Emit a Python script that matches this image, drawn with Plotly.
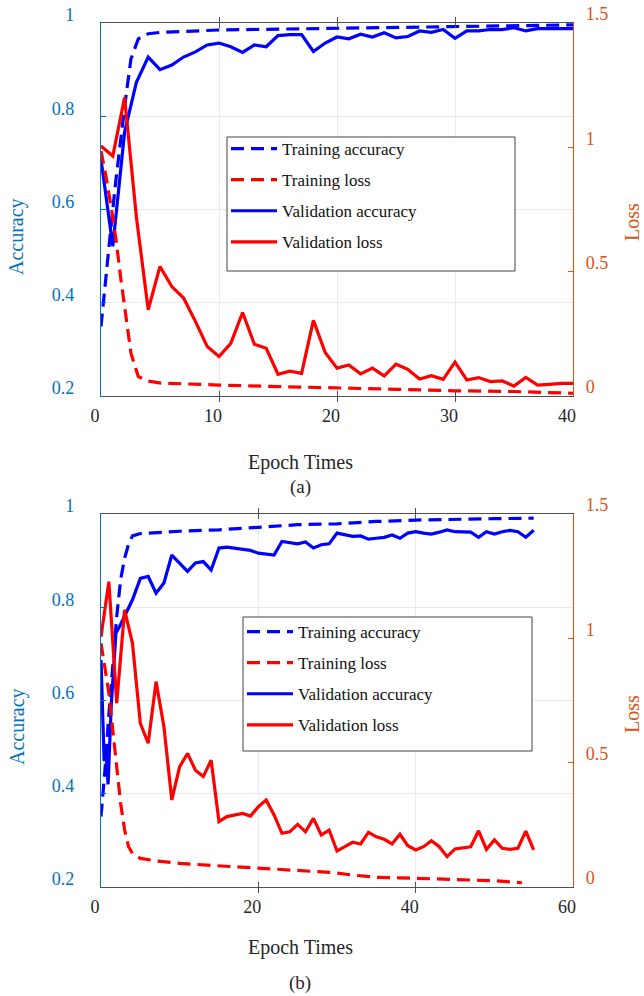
import plotly.graph_objects as go

W, H = 644, 996

# ---------------- data: panel (a) ----------------
ta_a_x = [0, 0.42, 0.85, 1.27, 1.69, 2.12, 2.54, 3.16, 4.0, 5.1, 10, 15, 20, 25, 30, 35, 40]
ta_a_y = [0.349, 0.464, 0.564, 0.665, 0.758, 0.844, 0.923, 0.966, 0.977, 0.980, 0.985, 0.987, 0.989, 0.991, 0.993, 0.995, 0.996]

tl_a_x = [0, 0.42, 0.85, 1.27, 1.69, 2.12, 2.54, 3.16, 4.0, 5.1, 6.9, 10, 15, 20, 25, 30, 35, 40]
tl_a_y = [0.985, 0.884, 0.763, 0.629, 0.468, 0.306, 0.172, 0.078, 0.060, 0.052, 0.048, 0.044, 0.038, 0.034, 0.027, 0.021, 0.018, 0.011]

va_a_x = list(range(0, 41))
va_a_y = [0.708, 0.521, 0.766, 0.873, 0.927, 0.900, 0.910, 0.927, 0.938, 0.953,
          0.957, 0.949, 0.937, 0.953, 0.949, 0.973, 0.975, 0.975, 0.939, 0.957,
          0.970, 0.966, 0.976, 0.970, 0.979, 0.968, 0.971, 0.983, 0.980, 0.986,
          0.967, 0.983, 0.983, 0.986, 0.986, 0.990, 0.983, 0.988, 0.988, 0.988, 0.988]

vl_a_x = list(range(0, 41))
vl_a_y = [1.005, 0.965, 1.20, 0.72, 0.347, 0.521, 0.44, 0.394, 0.30, 0.199,
          0.159, 0.212, 0.336, 0.208, 0.192, 0.0875, 0.10, 0.091, 0.304, 0.175,
          0.112, 0.125, 0.089, 0.112, 0.081, 0.128, 0.107, 0.0685, 0.082, 0.067,
          0.136, 0.0645, 0.074, 0.058, 0.0605, 0.040, 0.075, 0.044, 0.047, 0.051, 0.051]

# ---------------- data: panel (b) ----------------
ta_b_x = [0, 0.5, 1.0, 1.5, 2.0, 2.5, 3.0, 3.5, 4.0, 5, 7, 10, 15, 20, 25, 30, 35, 40, 45, 50, 55]
ta_b_y = [0.351, 0.45, 0.57, 0.68, 0.78, 0.86, 0.905, 0.935, 0.953, 0.958, 0.960, 0.963, 0.966,
          0.971, 0.977, 0.979, 0.984, 0.987, 0.989, 0.990, 0.991]

tl_b_x = [0, 0.5, 1.0, 1.5, 2.0, 2.5, 3.0, 3.5, 4.0, 5, 7, 10, 13.5, 17, 20, 23, 26, 29.5,
          32, 35, 38, 41, 44, 47, 50, 53.5]
tl_b_y = [0.98, 0.886, 0.78, 0.63, 0.47, 0.336, 0.23, 0.162, 0.135, 0.115, 0.105, 0.095, 0.088,
          0.081, 0.075, 0.069, 0.064, 0.058, 0.048, 0.039, 0.037, 0.035, 0.031, 0.028, 0.025, 0.017]

va_b_x = [0, 0.4, 0.6, 0.9, 1.3, 1.9, 2.4, 3] + list(range(4, 56))
va_b_y = [0.687, 0.47, 0.50, 0.42, 0.59, 0.745, 0.76, 0.78,
          0.816, 0.862, 0.866, 0.830, 0.852, 0.912, 0.895, 0.877, 0.895, 0.898,
          0.880, 0.927, 0.929, 0.927, 0.925, 0.922, 0.916, 0.914, 0.912, 0.941,
          0.939, 0.936, 0.940, 0.927, 0.934, 0.936, 0.959, 0.955, 0.952, 0.953,
          0.946, 0.948, 0.950, 0.955, 0.948, 0.959, 0.962, 0.959, 0.957, 0.961,
          0.966, 0.962, 0.962, 0.961, 0.950, 0.962, 0.957, 0.962, 0.965, 0.962,
          0.950, 0.965]

vl_b_x = list(range(0, 56))
vl_b_y = [1.006, 1.228, 0.739, 1.114, 0.98, 0.658, 0.578, 0.826, 0.645, 0.35,
          0.484, 0.537, 0.47, 0.444, 0.51, 0.263, 0.283, 0.29, 0.296, 0.285,
          0.323, 0.35, 0.29, 0.216, 0.222, 0.252, 0.222, 0.276, 0.209, 0.229,
          0.145, 0.162, 0.18, 0.173, 0.22, 0.202, 0.192, 0.173, 0.212, 0.166,
          0.149, 0.162, 0.186, 0.162, 0.122, 0.153, 0.156, 0.162, 0.226, 0.151,
          0.189, 0.156, 0.151, 0.156, 0.225, 0.149]

series_names = ["Training accuracy", "Training loss", "Validation accuracy", "Validation loss"]

acc_ticks = [0.2, 0.4, 0.6, 0.8, 1.0]
acc_ticktext = ["0.2", "0.4", "0.6", "0.8", "1"]
loss_ticks = [0, 0.5, 1.0, 1.5]
loss_ticktext = ["0", "0.5", "1", "1.5"]
xa_ticks = [0, 10, 20, 30, 40]
xb_ticks = [0, 20, 40, 60]

# ---------------- styling ----------------
BLUE = "#0000FF"
RED = "#FF0000"
ACC_C = "#0072BD"
LOSS_C = "#D95319"
AX_C = "#505050"
GRID_C = "#E6EBF1"
FONT = "Liberation Serif"
DASH = "13px,7px"
LW = 3.2


def px_x(p):
    return p / W


def px_y(p):
    return 1 - p / H


fig = go.Figure()


def add_panel(xref, yref, y2ref, legend, grp, data):
    (tax, tay), (tlx, tly), (vax, vay), (vlx, vly) = data
    specs = [
        (tax, tay, yref, BLUE, DASH),
        (tlx, tly, y2ref, RED, DASH),
        (vax, vay, yref, BLUE, "solid"),
        (vlx, vly, y2ref, RED, "solid"),
    ]
    for i, (xs, ys, yr, col, dash) in enumerate(specs):
        fig.add_trace(go.Scatter(
            x=xs, y=ys, mode="lines", name=series_names[i],
            xaxis=xref, yaxis=yr, legend=legend, legendgroup=f"{grp}{i}",
            line=dict(color=col, width=LW, dash=dash),
        ))


add_panel("x", "y", "y2", "legend", "a",
          [(ta_a_x, ta_a_y), (tl_a_x, tl_a_y), (va_a_x, va_a_y), (vl_a_x, vl_a_y)])
add_panel("x2", "y3", "y4", "legend2", "b",
          [(ta_b_x, ta_b_y), (tl_b_x, tl_b_y), (va_b_x, va_b_y), (vl_b_x, vl_b_y)])

XDOM = [px_x(101), px_x(573)]
DOM_A = [px_y(396), px_y(23)]
DOM_B = [px_y(887), px_y(514)]


def xaxis(rng, ticks, anchor):
    return dict(
        domain=XDOM, range=rng, tickvals=ticks, ticktext=[str(t) for t in ticks],
        anchor=anchor, showgrid=True, gridcolor=GRID_C, gridwidth=1, zeroline=False,
        showline=True, linecolor=AX_C, linewidth=1, mirror="allticks",
        ticks="inside", ticklen=5, tickcolor=AX_C, automargin=False,
        tickfont=dict(family=FONT, size=18, color="#262626"),
        ticklabelshift=-6, ticklabelstandoff=3,
    )


def yacc(dom, anchor):
    return dict(
        domain=dom, range=[0.2, 1.0], tickvals=acc_ticks, ticktext=acc_ticktext,
        anchor=anchor, showgrid=True, gridcolor=GRID_C, gridwidth=1, zeroline=False,
        showline=True, linecolor=ACC_C, linewidth=1.2, automargin=False,
        ticks="inside", ticklen=5, tickcolor=ACC_C,
        tickfont=dict(family=FONT, size=18, color=ACC_C),
        ticklabelshift=-8, ticklabelstandoff=22,
    )


def yloss(overlay, anchor):
    return dict(
        overlaying=overlay, side="right", range=[0, 1.5], tickvals=loss_ticks,
        ticktext=loss_ticktext, anchor=anchor, showgrid=False, zeroline=False,
        showline=True, linecolor=LOSS_C, linewidth=1.2, automargin=False,
        ticks="inside", ticklen=5, tickcolor=LOSS_C,
        tickfont=dict(family=FONT, size=18, color=LOSS_C),
        ticklabelshift=-9, ticklabelstandoff=8,
    )


def legend_cfg(x_px, y_px):
    return dict(
        x=px_x(x_px), y=px_y(y_px), xanchor="left", yanchor="top",
        bgcolor="rgba(0,0,0,0)", borderwidth=0, itemwidth=46,
        traceorder="grouped", tracegroupgap=6,
        font=dict(family=FONT, size=17, color="#111111"),
    )


def box(x0, y0, x1, y1):
    return dict(type="rect", xref="paper", yref="paper",
                x0=px_x(x0), x1=px_x(x1), y0=px_y(y1), y1=px_y(y0),
                line=dict(color="#404040", width=1), fillcolor="white", layer="above")


def label(text, x, y, color="#262626", size=20, angle=0):
    return dict(text=text, x=px_x(x), y=px_y(y), xref="paper", yref="paper",
                showarrow=False, textangle=angle, xanchor="center", yanchor="middle",
                font=dict(family=FONT, size=size, color=color))


fig.update_layout(
    width=W, height=H, margin=dict(l=0, r=0, t=0, b=0, autoexpand=False),
    paper_bgcolor="white", plot_bgcolor="white",
    xaxis=xaxis([0, 40], xa_ticks, "y"),
    yaxis=yacc(DOM_A, "x"),
    yaxis2=yloss("y", "x"),
    xaxis2=xaxis([0, 60], xb_ticks, "y3"),
    yaxis3=yacc(DOM_B, "x2"),
    yaxis4=yloss("y3", "x2"),
    legend=legend_cfg(226, 131),
    legend2=legend_cfg(242, 614),
    shapes=[box(227, 137, 515, 271), box(243, 617, 532, 751)],
    annotations=[
        label("Accuracy", 17, 237, ACC_C, 20, -90),
        label("Loss", 632, 222, LOSS_C, 20, -90),
        label("Epoch Times", 300, 462),
        label("(a)", 300, 487, size=19),
        label("Accuracy", 17, 727, ACC_C, 20, -90),
        label("Loss", 632, 714, LOSS_C, 20, -90),
        label("Epoch Times", 300, 947),
        label("(b)", 300, 983, size=19),
    ],
    showlegend=True,
)

fig.write_html("out.html")
